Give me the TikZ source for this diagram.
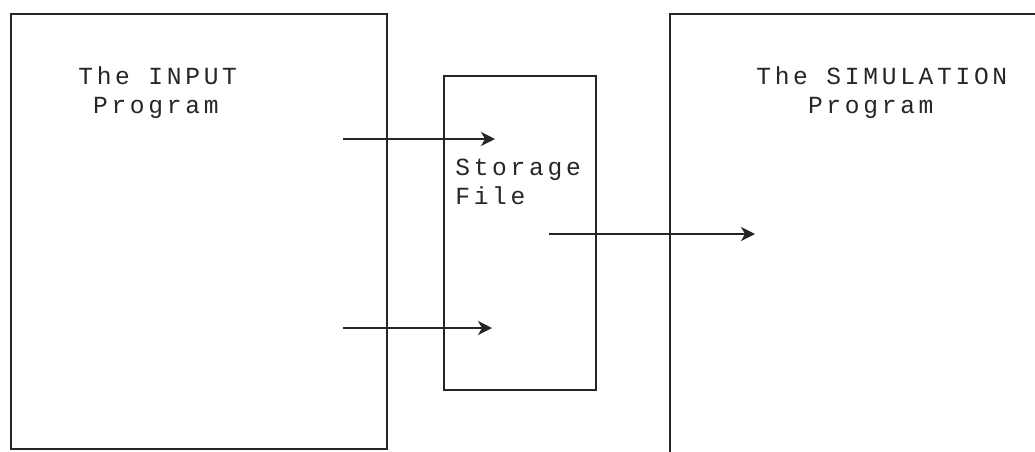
\documentclass[tikz,border=0pt]{standalone}
\usepackage{fontspec}
\newfontfamily\dotfont[LetterSpace=15]{Liberation Mono}
\usetikzlibrary{arrows.meta}

\begin{document}
\begin{tikzpicture}[
  x=0.02cm, y=-0.02cm,
  frame/.style={draw=black!85,line width=0.9pt,inner sep=0pt},
  lbl/.style={inner sep=0pt,align=left,anchor=north west,text=black!85,
              font=\dotfont\fontsize{14}{16.6}\selectfont},
  ar/.style={-{Stealth[length=2.8mm,width=2.8mm,inset=0.8mm]},draw=black!85,line width=0.9pt}
]
\clip (0,0) rectangle (1035,451);

% the three blocks
\node[frame,minimum width=7.52cm,minimum height=8.70cm] (input) at (199,231.5) {};
\node[frame,minimum width=3.04cm,minimum height=6.28cm] (store) at (520,233) {};
\node[frame,minimum width=7.50cm,minimum height=9.12cm] (sim) at (857.5,242) {};

\node[lbl] (inputtxt) at (78,66) {The INPUT\\\hphantom{T}Program};
\node[lbl] (storetxt) at (455,159) {Storage\\File};
\node[lbl] (simtxt) at (756,66) {The SIMULATION\\\hphantom{The}Program};

% arrows
\coordinate (a1s) at (343,139);
\coordinate (a1e) at (495,139);
\coordinate (a2s) at (343,328);
\coordinate (a2e) at (492,328);
\coordinate (a3s) at (549,234);
\coordinate (a3e) at (755,234);

\draw[ar] (a1s) -- (a1e);
\draw[ar] (a2s) -- (a2e);
\draw[ar] (a3s) -- (a3e);
\end{tikzpicture}
\end{document}
